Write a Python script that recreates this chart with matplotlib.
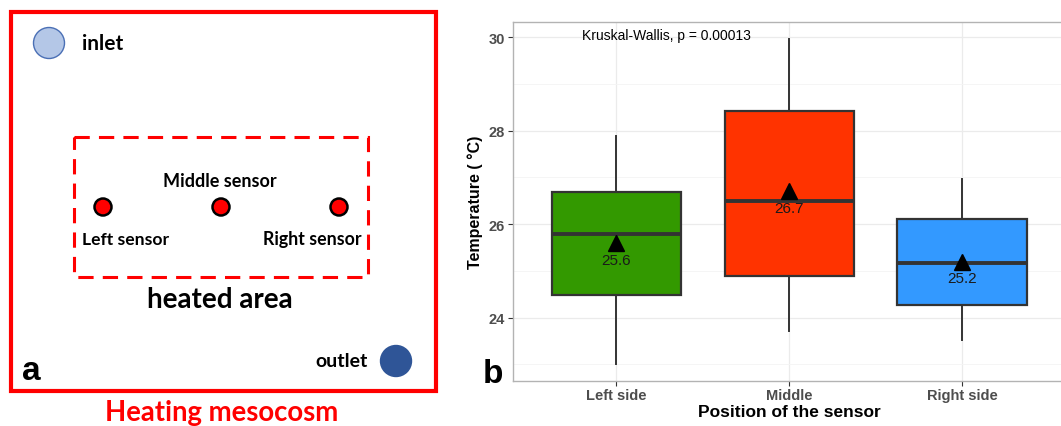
import numpy as np
import matplotlib
matplotlib.use("Agg")
import matplotlib.pyplot as plt
from matplotlib.patches import Circle, Rectangle

# ---- data for panel b
positions_lbl = ["Left side", "Middle", "Right side"]
q1 = [24.49, 24.88, 24.26]
med = [25.79, 26.50, 25.17]
q3 = [26.69, 28.43, 26.11]
whis_lo = [23.00, 23.72, 23.53]
whis_hi = [27.89, 29.96, 26.96]
means = [25.6, 26.7, 25.2]
box_cols = ["#339900", "#ff3300", "#3399ff"]
p_text = "Kruskal-Wallis, p = 0.00013"

# ---- panel a schematic (pixel coords of the figure)
sensor_x = [103, 221, 339]
sensor_y = 208

W, H = 1061, 427
fig = plt.figure(figsize=(W / 100, H / 100), dpi=100)

# panel a drawn straight in pixel space
axa = fig.add_axes([0, 0, 1, 1])
axa.set_xlim(0, W)
axa.set_ylim(H, 0)
axa.axis("off")
fa = "Lato"

axa.add_patch(Rectangle((11, 13), 425, 379, fill=False, ec="#ff0000", lw=3))
axa.add_patch(Rectangle((74, 138), 294, 140, fill=False, ec="#ff0000", lw=2.2,
                        ls=(0, (5, 3))))
axa.add_patch(Circle((49, 44), 15.5, fc="#b4c7e7", ec="#4a6fb5", lw=1))
axa.add_patch(Circle((396, 362), 15.5, fc="#2f5597", ec="#2f5597", lw=1))
for sx in sensor_x:
    axa.add_patch(Circle((sx, sensor_y), 8.5, fc="#ff0000", ec="black", lw=1.8))

axa.text(82, 44, "inlet", family=fa, weight="bold", fontsize=15, va="center")
axa.text(368, 362, "outlet", family=fa, weight="bold", fontsize=14, va="center", ha="right")
axa.text(220, 182, "Middle sensor", family=fa, weight="bold", fontsize=13, va="center", ha="center")
axa.text(82, 240, "Left sensor", family=fa, weight="bold", fontsize=12.6, va="center")
axa.text(362, 240, "Right sensor", family=fa, weight="bold", fontsize=12.8, va="center", ha="right")
axa.text(220, 300, "heated area", family=fa, weight="bold", fontsize=20, va="center", ha="center")
axa.text(222, 413, "Heating mesocosm", family=fa, weight="bold", fontsize=19.8,
         va="center", ha="center", color="#ff0000")
axa.text(22, 380, "a", family="Liberation Sans", weight="bold", fontsize=24)
axa.text(483, 383, "b", family="Liberation Sans", weight="bold", fontsize=24)

# panel b
left, right, top, bot = 512.7, 1066, 22.7, 381.7
ax = fig.add_axes([left / W, 1 - bot / H, (right - left) / W, (bot - top) / H])
stats = []
for i in range(3):
    stats.append(dict(med=med[i], q1=q1[i], q3=q3[i], whislo=whis_lo[i],
                      whishi=whis_hi[i], fliers=[], label=positions_lbl[i]))
bp = ax.bxp(stats, positions=[1, 2, 3], widths=0.75, patch_artist=True,
            showcaps=False, showfliers=False,
            boxprops=dict(ec="#333333", lw=1.6),
            medianprops=dict(color="#333333", lw=2.8),
            whiskerprops=dict(color="#333333", lw=1.4))
for patch, c in zip(bp["boxes"], box_cols):
    patch.set_facecolor(c)
    patch.set_zorder(3)
for ln in bp["medians"]:
    ln.set_zorder(4)

ax.plot([1, 2, 3], means, "^", color="black", ms=11, zorder=5)
for x, m in zip([1, 2, 3], means):
    ax.text(x, m - 0.36, "%.1f" % m, ha="center", va="center", fontsize=11,
            family="Liberation Sans", color="#1a1a1a", zorder=6)

ax.set_xlim(0.4, 3.6)
ax.set_ylim(22.65, 30.33)
ax.set_yticks([24, 26, 28, 30])
ax.set_yticks([23, 25, 27, 29], minor=True)
ax.set_xticks([1, 2, 3])
ax.set_xticklabels(positions_lbl)
ax.grid(True, which="major", color="#ebebeb", lw=0.9, zorder=0)
ax.grid(True, which="minor", axis="y", color="#f4f4f4", lw=0.6, zorder=0)
ax.set_axisbelow(True)
ax.tick_params(which="minor", length=0)
ax.tick_params(which="major", length=3.5, width=0.8, color="#333333", pad=2,
               labelsize=10.5, labelcolor="#4d4d4d")
for lab in ax.get_xticklabels() + ax.get_yticklabels():
    lab.set_family("Liberation Sans")
    lab.set_weight("bold")
for s in ax.spines.values():
    s.set_color("#b3b3b3")
    s.set_linewidth(1)

ax.set_xlabel("Position of the sensor", family="Liberation Sans", weight="bold",
              fontsize=12.5, labelpad=1)
ax.set_ylabel("Temperature ( °C)", family="Liberation Sans", weight="bold",
              fontsize=11.5, labelpad=4)
ax.text(1.29, 30.05, p_text, ha="center", va="center", fontsize=10,
        family="Liberation Sans")

fig.savefig("out.png", dpi=100)
